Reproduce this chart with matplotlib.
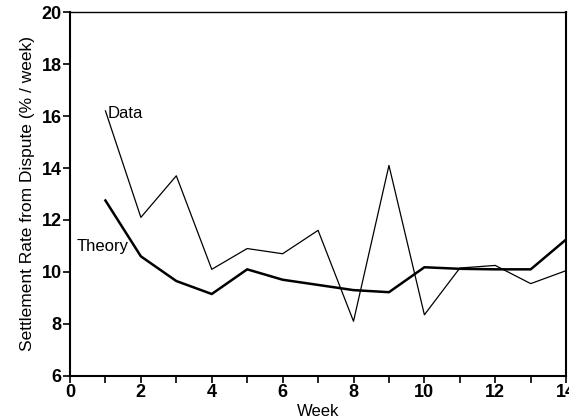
import matplotlib
matplotlib.use("Agg")
import matplotlib.pyplot as plt
import numpy as np

plt.rcParams['font.family'] = ['Liberation Sans', 'DejaVu Sans']

weeks = [1, 2, 3, 4, 5, 6, 7, 8, 9, 10, 11, 12, 13, 14]
data = [16.2, 12.1, 13.7, 10.1, 10.9, 10.7, 11.6, 8.1, 14.1, 8.35, 10.15, 10.25, 9.55, 10.05]
theory = [12.75, 10.6, 9.65, 9.15, 10.1, 9.7, 9.5, 9.3, 9.22, 10.18, 10.12, 10.1, 10.1, 11.25]

fig = plt.figure(figsize=(5.69, 4.19), dpi=100)
ax = fig.add_axes([0.123, 0.103, 0.872, 0.868])

ax.plot(weeks, data, color='black', lw=0.9)
ax.plot(weeks, theory, color='black', lw=1.8)

ax.text(1.05, 16.1, "Data", fontsize=12, va='center', ha='left')
ax.text(0.2, 10.97, "Theory", fontsize=12, va='center', ha='left')

ax.set_xlim(0, 14)
ax.set_ylim(6, 20)
ax.set_xticks(np.arange(0, 15, 2))
ax.set_xticks(np.arange(1, 14, 2), minor=True)
ax.set_yticks(np.arange(6, 21, 2))
ax.tick_params(axis='both', which='major', length=5, width=1.2, labelsize=13, pad=1)
ax.tick_params(axis='x', which='minor', length=5, width=1.2)
for lab in ax.get_xticklabels() + ax.get_yticklabels():
    lab.set_fontweight('bold')

for s in ['left', 'bottom', 'right']:
    ax.spines[s].set_linewidth(1.5)
ax.spines['top'].set_linewidth(1.0)

ax.set_xlabel("Week", fontsize=12, labelpad=2)
ax.set_ylabel("Settlement Rate from Dispute (% / week)", fontsize=12.5, labelpad=5)

fig.savefig("out.png", dpi=100)
